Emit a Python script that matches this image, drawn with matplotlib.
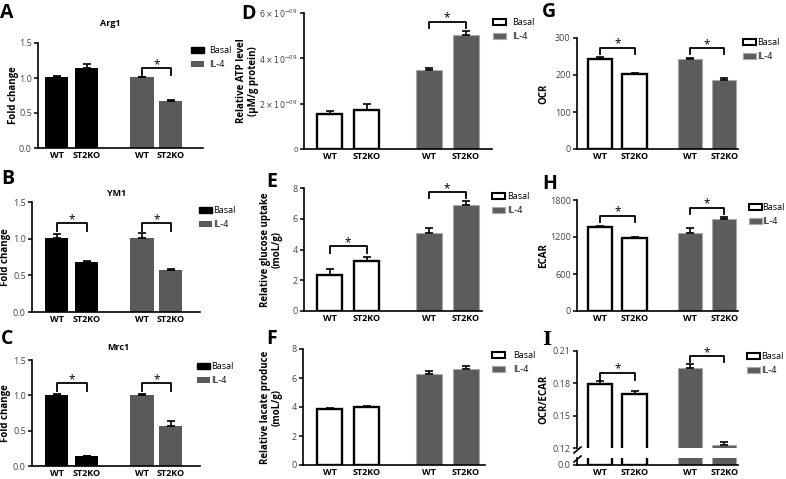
import matplotlib
matplotlib.use('Agg')
import matplotlib.pyplot as plt
from matplotlib.patches import Patch
from matplotlib.lines import Line2D

plt.rcParams['font.family'] = ['Open Sans', 'DejaVu Sans']

W, H = 786, 479
groups = ['WT', 'ST2KO', 'WT', 'ST2KO']
series = ['Basal', 'IL-4']

# values: WT basal, ST2KO basal, WT IL-4, ST2KO IL-4
arg1 = [1.01, 1.15, 1.01, 0.67]
arg1_err = [0.02, 0.05, 0.01, 0.01]
ym1 = [1.01, 0.68, 1.01, 0.575]
ym1_err = [0.06, 0.01, 0.07, 0.015]
mrc1 = [1.005, 0.14, 1.005, 0.565]
mrc1_err = [0.01, 0.005, 0.01, 0.065]
atp = [1.53e-9, 1.72e-9, 3.47e-9, 5.03e-9]
atp_err = [0.16e-9, 0.27e-9, 0.09e-9, 0.19e-9]
glucose = [2.37, 3.24, 5.07, 6.9]
glucose_err = [0.37, 0.28, 0.33, 0.27]
lactate = [3.84, 3.98, 6.3, 6.59]
lactate_err = [0.07, 0.11, 0.18, 0.21]
ocr = [244, 202, 244, 186]
ocr_err = [4, 3, 2, 7]
ecar = [1361, 1190, 1258, 1486]
ecar_err = [22, 5, 80, 32]
ratio = [0.1797, 0.1699, 0.1944, 0.123]
ratio_err = [0.0023, 0.0027, 0.0033, 0.0022]

# significance brackets: (bar a, bar b, leg bottom, top)
sig_A = [(2, 3, 1.05, 1.14)]
sig_B = [(0, 1, 1.10, 1.21), (2, 3, 1.10, 1.21)]
sig_C = [(0, 1, 1.065, 1.17), (2, 3, 1.065, 1.17)]
sig_D = [(2, 3, 5.32e-9, 5.62e-9)]
sig_E = [(0, 1, 3.74, 4.2), (2, 3, 7.35, 7.74)]
sig_G = [(0, 1, 256, 274), (2, 3, 256, 273)]
sig_H = [(0, 1, 1448, 1545), (2, 3, 1567, 1675)]
sig_I = [(0, 1, 0.1833, 0.190), (2, 3, 0.200, 0.2055)]

BLACK = '#000000'
GREY1 = '#5a5a5a'
GREY2 = '#5c5c5c'
TICKC = '#444444'

# column layout: first bar centre (px), unit (px), bar positions, width
cols = {
    1: dict(c0=56.5, u=30.0, pos=[0, 1, 2.85, 3.8], w=0.77),
    2: dict(c0=329.5, u=37.0, pos=[0, 1, 2.68, 3.68], w=0.70),
    3: dict(c0=600.0, u=34.5, pos=[0, 1, 2.6, 3.6], w=0.70),
}

fig = plt.figure(figsize=(7.86, 4.79), dpi=100)


def add_ax(l, r, t, b):
    return fig.add_axes([l / W, 1 - b / H, (r - l) / W, (b - t) / H])


def style(ax, l, r, col, bottom=True):
    c = cols[col]
    ax.set_xlim((l - c['c0']) / c['u'], (r - c['c0']) / c['u'])
    for s in ['top', 'right']:
        ax.spines[s].set_visible(False)
    ax.spines['left'].set_linewidth(1.2)
    ax.spines['bottom'].set_linewidth(1.2)
    ax.tick_params(axis='y', direction='out', length=3, width=1.1, pad=1.5,
                   labelsize=6.5, labelcolor=TICKC)
    if bottom:
        ax.set_xticks(c['pos'])
        ax.set_xticklabels(groups, fontsize=6.5, fontweight='bold')
        ax.tick_params(axis='x', length=0, pad=2)
    else:
        ax.spines['bottom'].set_visible(False)
        ax.set_xticks([])


def bars(ax, col, vals, errs, filled_basal):
    c = cols[col]
    pos = c['pos']
    if filled_basal:
        ax.bar(pos[:2], vals[:2], width=c['w'], color=BLACK, zorder=2)
        ax.bar(pos[2:], vals[2:], width=c['w'], color=GREY1, zorder=2)
    else:
        ax.bar(pos[:2], vals[:2], width=c['w'], facecolor='white',
               edgecolor=BLACK, linewidth=1.7, zorder=2)
        ax.bar(pos[2:], vals[2:], width=c['w'], facecolor=GREY2,
               edgecolor='#a8a8a8', linewidth=0.8, zorder=2)
    ax.errorbar(pos, vals, yerr=[[0] * 4, errs], fmt='none', ecolor=BLACK,
                elinewidth=1.2, capsize=3, capthick=1.2, zorder=3)


def brackets(ax, col, sig):
    pos = cols[col]['pos']
    for a, b, lo, hi in sig:
        ax.plot([pos[a], pos[a], pos[b], pos[b]], [lo, hi, hi, lo],
                color=BLACK, lw=1.3, clip_on=False, zorder=4)
        ax.text((pos[a] + pos[b]) / 2, hi, '*', ha='center', va='baseline',
                fontsize=8.5, clip_on=False)


def legend(ax, x, y, filled_basal, pad=0.5):
    if filled_basal:
        h = [Patch(facecolor=BLACK, edgecolor=BLACK), Patch(facecolor=GREY1)]
    else:
        h = [Patch(facecolor='white', edgecolor=BLACK, linewidth=1.5),
             Patch(facecolor=GREY2, edgecolor='#a8a8a8', linewidth=0.8)]
    ax.legend(h, series, loc='upper left', bbox_to_anchor=(x / W, 1 - y / H),
              bbox_transform=fig.transFigure, frameon=False, fontsize=6.5,
              handlelength=1.4, handleheight=0.75, handletextpad=pad,
              labelspacing=0.55, borderpad=0, borderaxespad=0)


def ylabel(ax, text, xpix, l, r):
    ax.set_ylabel(text, fontsize=7, fontweight='bold', linespacing=1.1)
    ax.yaxis.set_label_coords((xpix - l) / (r - l), 0.5)


def letter(x, y, s, family=None):
    kw = {'family': family} if family else {}
    fig.text(x / W, 1 - y / H, s, fontsize=14, fontweight='bold',
             va='top', ha='left', **kw)


# ---- column 1 ----
fold_ticks = [0, 0.5, 1.0, 1.5]
fold_labels = ['0.0', '0.5', '1.0', '1.5']
panels1 = [
    ('A', (38, 203, 43, 148), arg1, arg1_err, sig_A, 'Arg1', (110, 24), (191, 46), 0.6, 19, (0, 3)),
    ('B', (32, 200, 202, 312), ym1, ym1_err, sig_B, 'YM1', (117, 193), (199, 206), 0.2, 11, (1, 169)),
    ('C', (32, 200, 360, 466), mrc1, mrc1_err, sig_C, 'Mrc1', (118, 348), (197, 362), 0.2, 11, (1, 329)),
]
for name, (l, r, t, b), v, e, sig, title, tpos, lpos, lpad, labx, lett in panels1:
    ax = add_ax(l, r, t, b)
    bars(ax, 1, v, e, True)
    style(ax, l, r, 1)
    ax.set_ylim(0, 1.5)
    ax.set_yticks(fold_ticks)
    ax.set_yticklabels(fold_labels)
    brackets(ax, 1, sig)
    legend(ax, lpos[0], lpos[1], True, lpad)
    ylabel(ax, 'Fold change', labx, l, r)
    fig.text(tpos[0] / W, 1 - tpos[1] / H, title, fontsize=6.5,
             fontweight='bold', ha='center', va='center')
    letter(lett[0], lett[1], name)

# ---- column 2 ----
ax = add_ax(304, 492, 13, 149)
bars(ax, 2, atp, atp_err, False)
style(ax, 304, 492, 2)
ax.set_ylim(0, 6e-9)
ax.set_yticks([0, 2e-9, 4e-9, 6e-9])
ax.set_yticklabels(['0', r'$2\times10^{-09}$', r'$4\times10^{-09}$',
                    r'$6\times10^{-09}$'], fontsize=5.8)
brackets(ax, 2, sig_D)
legend(ax, 493, 18, False, 0.7)
ylabel(ax, 'Relative ATP level\n(\u03bcM/g protein)', 259, 304, 492)
letter(241, 4, 'D')

ax = add_ax(304, 482, 188, 311)
bars(ax, 2, glucose, glucose_err, False)
style(ax, 304, 482, 2)
ax.set_ylim(0, 8)
ax.set_yticks([0, 2, 4, 6, 8])
brackets(ax, 2, sig_E)
legend(ax, 492, 192, False, 0.3)
ylabel(ax, 'Relative glucose uptake\n(moL/g)', 283, 304, 482)
letter(266, 172, 'E')

ax = add_ax(303, 485, 349, 465)
bars(ax, 2, lactate, lactate_err, False)
style(ax, 303, 485, 2)
ax.set_ylim(0, 8)
ax.set_yticks([0, 2, 4, 6, 8])
legend(ax, 492, 351, False, 0.9)
ylabel(ax, 'Relative lacate produce\n(moL/g)', 283, 303, 485)
letter(266, 329, 'F')

# ---- column 3 ----
ax = add_ax(577, 738, 38, 149)
bars(ax, 3, ocr, ocr_err, False)
style(ax, 577, 738, 3)
ax.set_ylim(0, 300)
ax.set_yticks([0, 100, 200, 300])
brackets(ax, 3, sig_G)
legend(ax, 743, 38, False, 0.15)
ylabel(ax, 'OCR', 549, 577, 738)
letter(542, 2, 'G')

ax = add_ax(577, 738, 200, 311)
bars(ax, 3, ecar, ecar_err, False)
style(ax, 577, 738, 3)
ax.set_ylim(0, 1800)
ax.set_yticks([0, 600, 1200, 1800])
brackets(ax, 3, sig_H)
legend(ax, 749, 203, False, 0.1)
ylabel(ax, 'ECAR', 549, 577, 738)
letter(542, 174, 'H')

# broken axis panel I
ax_up = add_ax(577, 738, 351, 448)
bars(ax_up, 3, ratio, ratio_err, False)
style(ax_up, 577, 738, 3, bottom=False)
ax_up.set_ylim(0.12, 0.21)
ax_up.set_yticks([0.12, 0.15, 0.18, 0.21])
ax_up.set_yticklabels(['0.12', '0.15', '0.18', '0.21'])
brackets(ax_up, 3, sig_I)
legend(ax_up, 747, 352, False, 0.2)
ylabel(ax_up, 'OCR/ECAR', 549, 577, 738)

ax_lo = add_ax(577, 738, 458, 465)
bars(ax_lo, 3, ratio, [0] * 4, False)
style(ax_lo, 577, 738, 3)
ax_lo.set_ylim(0, 0.01)
ax_lo.set_yticks([0])
ax_lo.set_yticklabels(['0.0'])
for (x0, y0, x1, y1) in [(574, 453, 581, 447), (574, 462, 581, 456)]:
    fig.add_artist(Line2D([x0 / W, x1 / W], [1 - y0 / H, 1 - y1 / H],
                          transform=fig.transFigure, color=BLACK, lw=1.2))
letter(542, 331, 'I', family='DejaVu Serif')

fig.savefig('out.png', dpi=100)
